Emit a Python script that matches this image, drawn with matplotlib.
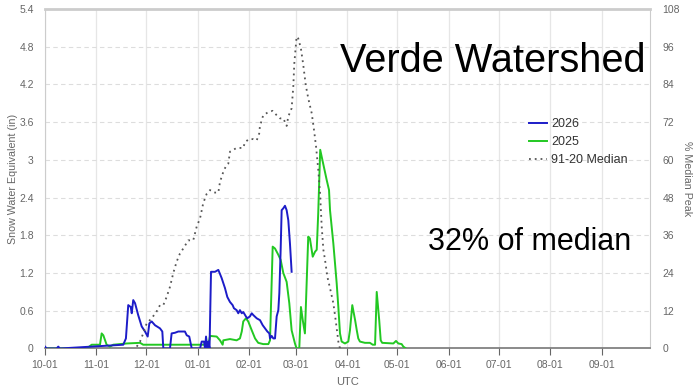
import matplotlib.pyplot as plt

plt.rcParams['font.family'] = ['Liberation Sans', 'DejaVu Sans']

# water-year day offsets (0 = Oct 1) and month tick labels
month_days = [0, 31, 61, 92, 123, 151, 182, 212, 243, 273, 304, 335]
month_labels = ['10-01', '11-01', '12-01', '01-01', '02-01', '03-01',
                '04-01', '05-01', '06-01', '07-01', '08-01', '09-01']

# 2026 snow water equivalent (in)
days_2026 = [0, 1, 7, 8, 9, 47.1, 48.7, 50.1, 51.6, 52.2, 53.1, 54.2, 56.1, 58.2,
             60.2, 61.8, 62.8, 64.2, 66.2, 69.2, 70.6, 71.2, 75.2, 76.2, 78.2,
             80.2, 84.2, 85.3, 86.8, 88.3, 93.3, 94.3, 95.7, 96.3, 96.9, 97.7,
             98.3, 99.0, 99.9, 102.3, 104.3, 106.3, 108.3, 109.7, 111.3, 112.9,
             113.7, 115.3, 116.3, 117.3, 118.4, 119.3, 120.9, 121.7, 123.3,
             124.4, 125.4, 127.4, 129.4, 131.0, 132.4, 133.8, 135.0, 135.4,
             136.4, 137.4, 138.4, 139.4, 140.4, 141.0, 141.8, 142.4, 143.4,
             144.4, 145.4, 146.4, 147.4, 148.4]
swe_2026 = [0.03, 0, 0, 0.03, 0, 0.06, 0.16, 0.69, 0.66, 0.56, 0.77, 0.72, 0.53, 0.35,
            0.27, 0.19, 0.40, 0.43, 0.37, 0.32, 0.27, 0.0, 0.0, 0.24, 0.25,
            0.27, 0.27, 0.21, 0.19, 0.0, 0.0, 0.11, 0.11, 0.0, 0.19, 0.0,
            0.11, 0.0, 1.22, 1.22, 1.25, 1.12, 0.96, 0.82, 0.74, 0.69,
            0.64, 0.61, 0.56, 0.61, 0.56, 0.58, 0.51, 0.48, 0.51,
            0.56, 0.53, 0.48, 0.45, 0.37, 0.32, 0.27, 0.24, 0.16,
            0.20, 0.16, 0.16, 0.51, 0.61, 0.88, 1.57, 2.20, 2.23,
            2.27, 2.20, 2.04, 1.67, 1.22]

# 2025 snow water equivalent (in)
days_2025 = [0, 25.1, 28.1, 33.1, 34.1, 35.1, 37.1, 39.1, 41.1, 49.2, 57.2, 59.1,
             98.3, 99.3, 103.3, 105.3, 106.9, 107.3, 111.3, 115.3, 117.3, 118.4,
             119.3, 120.9, 122.3, 124.4, 126.4, 128.3, 131.3, 134.4, 135.4, 137.0,
             138.4, 140.4, 141.8, 143.4, 145.4, 147.0, 148.4, 150.4, 151.4, 153.0,
             154.0, 155.1, 156.4, 158.4, 159.4, 161.1, 162.5, 163.5, 164.4, 165.6,
             167.3, 169.5, 170.9, 171.5, 173.5, 175.5, 176.5, 177.5, 178.5, 180.5,
             182.5, 183.5, 184.9, 186.6, 187.6, 188.5, 189.5, 192.5, 195.5, 197.2,
             198.6, 199.6, 201.1, 202.0, 202.9, 209.6, 211.2, 212.6, 214.6, 215.6,
             217.2]
swe_2025 = [0, 0, 0.06, 0.06, 0.24, 0.21, 0.06, 0.03, 0.06, 0.08, 0.09, 0.06,
            0.06, 0.20, 0.19, 0.13, 0.06, 0.13, 0.15, 0.13, 0.16, 0.27,
            0.43, 0.48, 0.43, 0.29, 0.16, 0.09, 0.07, 0.07, 0.13, 1.62,
            1.59, 1.49, 1.41, 1.20, 1.06, 0.72, 0.29, 0.08, 0.0, 0.0,
            0.66, 0.45, 0.24, 1.78, 1.75, 1.46, 1.54, 1.57, 2.15, 3.16,
            2.95, 2.68, 2.52, 2.20, 1.67, 1.04, 0.66, 0.24, 0.11, 0.08,
            0.11, 0.29, 0.69, 0.45, 0.29, 0.16, 0.11, 0.09, 0.09, 0.06,
            0.06, 0.90, 0.45, 0.13, 0.09, 0.08, 0.12, 0.08, 0.07, 0.03,
            0.0]

# 1991-2020 median (in)
days_med = [55.2, 57.2, 59.1, 61.2, 64.2, 67.2, 69.2, 71.2, 73.2, 75.2, 77.2, 79.2,
            81.2, 83.2, 86.2, 89.2, 91.3, 93.3, 95.2, 97.3, 99.3, 101.7, 104.3,
            105.3, 107.3, 108.7, 110.3, 111.3, 115.3, 119.3, 120.3, 122.7, 125.3,
            127.4, 128.9, 129.3, 131.3, 134.4, 137.0, 139.4, 141.4, 143.4, 145.4,
            146.4, 148.4, 149.4, 150.0, 151.4, 152.4, 154.0, 155.4, 156.9, 158.4,
            160.5, 161.9, 163.1, 164.4, 165.5, 166.5, 167.5, 168.5, 169.9, 171.5,
            173.5, 174.9, 175.9, 176.5, 177.5]
swe_med = [0.03, 0.11, 0.24, 0.40, 0.48, 0.59, 0.69, 0.69, 0.82, 0.98, 1.20, 1.38,
           1.51, 1.59, 1.72, 1.72, 1.94, 2.07, 2.31, 2.46, 2.52, 2.48, 2.48,
           2.65, 2.81, 2.89, 2.94, 3.13, 3.19, 3.19, 3.28, 3.33, 3.33,
           3.31, 3.42, 3.53, 3.71, 3.76, 3.78, 3.71, 3.66, 3.66, 3.54,
           3.69, 3.82, 4.16, 4.53, 4.96, 4.93, 4.77, 4.51, 4.19, 3.98,
           3.74, 3.47, 3.21, 2.85, 2.47, 1.94, 1.57, 1.41, 1.14, 0.96,
           0.72, 0.45, 0.24, 0.11, 0.0]

swe_ticks = [0, 0.6, 1.2, 1.8, 2.4, 3, 3.6, 4.2, 4.8, 5.4]
swe_labels = ['0', '0.6', '1.2', '1.8', '2.4', '3', '3.6', '4.2', '4.8', '5.4']
pct_ticks = [0, 12, 24, 36, 48, 60, 72, 84, 96, 108]

grey = '#666666'

fig = plt.figure(figsize=(6.93, 3.87), dpi=100)
ax = fig.add_axes([0.0649, 0.0995, 0.8730, 0.8773])

ax.plot(days_2026, swe_2026, color='#1c1cc8', lw=1.4, label='2026', zorder=4)
ax.plot(days_2025, swe_2025, color='#22c822', lw=1.4, label='2025', zorder=3)
ax.plot(days_med, swe_med, color='#555555', lw=1.3, linestyle=(0, (1, 2.2)),
        label='91-20 Median', zorder=5)

ax.set_xlim(0, 364)
ax.set_ylim(0, 5.4)
ax.set_xticks(month_days)
ax.set_xticklabels(month_labels)
ax.set_yticks(swe_ticks)
ax.set_yticklabels(swe_labels)

ax.grid(axis='x', color='#e6e6e6', lw=0.9)
ax.grid(axis='y', color='#dddddd', lw=0.8, linestyle=(0, (4, 3)))
ax.set_axisbelow(True)

ax.tick_params(axis='x', colors=grey, labelsize=7.5, length=5, width=0.8, pad=3)
ax.tick_params(axis='y', colors=grey, labelsize=7.5, length=0, pad=8)
for side in ['left', 'top', 'right']:
    ax.spines[side].set_color('#cccccc')
ax.spines['top'].set_linewidth(2)
ax.spines['bottom'].set_color('#777777')
ax.spines['bottom'].set_linewidth(1.2)

ax.set_xlabel('UTC', color=grey, fontsize=8, labelpad=5)
ax.set_ylabel('Snow Water Equivalent (in)', color=grey, fontsize=7.7, labelpad=1)

# right axis: percent of median peak
ax2 = ax.twinx()
ax2.set_ylim(0, 108)
ax2.set_yticks(pct_ticks)
ax2.tick_params(axis='y', colors=grey, labelsize=7.5, length=0, pad=9)
ax2.set_ylabel('% Median Peak', color=grey, fontsize=7.7, rotation=270, labelpad=9)
for side in ['left', 'top', 'right', 'bottom']:
    ax2.spines[side].set_visible(False)

leg = ax.legend(loc='upper left', bbox_to_anchor=(0.785, 0.705), frameon=False,
                fontsize=9, handlelength=1.5, handletextpad=0.3,
                borderpad=0.2, labelspacing=0.5)
for t in leg.get_texts():
    t.set_color('#333333')

fig.text(340 / 693, 1 - 72 / 387, 'Verde Watershed', fontsize=28.6,
         ha='left', va='baseline', color='black')
fig.text(428 / 693, 1 - 250 / 387, '32% of median', fontsize=22,
         ha='left', va='baseline', color='black')

fig.savefig('out.png', dpi=100)
